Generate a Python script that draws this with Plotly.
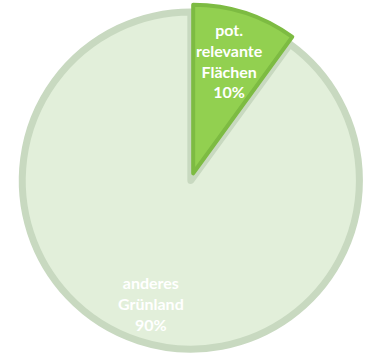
import numpy as np
import plotly.graph_objects as go

# Grassland share: potentially relevant areas vs. other grassland
labels = ["anderes<br>Grünland", "pot.<br>relevante<br>Flächen"]
shares = [90, 10]
pulls = [0.0, 0.045]

fill_colors = ["#E2EFDA", "#92D050"]
edge_colors = ["#C8D9C0", "#7DBB42"]
edge_widths = [7, 4]

W, H = 367, 361
dom_x = [0.04, 1.0]
dom_y = [0.0, 1.0]
start_deg = 36  # first slice (other grassland) starts here, clockwise

fig = go.Figure(
    go.Pie(
        labels=labels,
        values=shares,
        sort=False,
        direction="clockwise",
        rotation=start_deg,
        pull=pulls,
        marker=dict(colors=fill_colors, line=dict(color=edge_colors, width=edge_widths)),
        textinfo="none",
        hoverinfo="label+percent",
        domain=dict(x=dom_x, y=dom_y),
    )
)

# Pie geometry (same rule plotly uses: radius shrinks to leave room for the pull)
w = W * (dom_x[1] - dom_x[0])
h = H * (dom_y[1] - dom_y[0])
r = min(w, h) / 2 / (1 + max(pulls))
cx = W * (dom_x[0] + dom_x[1]) / 2
cy = H * (1 - (dom_y[0] + dom_y[1]) / 2)

total = sum(shares)
angle = start_deg
label_radius = [0.766, 0.705]
for lab, val, p, lr in zip(labels, shares, pulls, label_radius):
    span = 360 * val / total
    mid = np.deg2rad(angle + span / 2)
    dx, dy = np.sin(mid), -np.cos(mid)
    px = cx + (p + lr) * r * dx
    py = cy + (p + lr) * r * dy
    pct = round(100 * val / total)
    fig.add_annotation(
        x=px / W, y=1 - py / H, xref="paper", yref="paper",
        xanchor="center", yanchor="middle",
        text=f"{lab}<br>{pct}%", showarrow=False,
        font=dict(family="Lato", size=16, color="white", weight="bold"),
        align="center",
    )
    angle += span

fig.update_layout(
    width=W, height=H,
    margin=dict(l=0, r=0, t=0, b=0),
    paper_bgcolor="white",
    plot_bgcolor="white",
    showlegend=False,
)

fig.write_html("out.html")
